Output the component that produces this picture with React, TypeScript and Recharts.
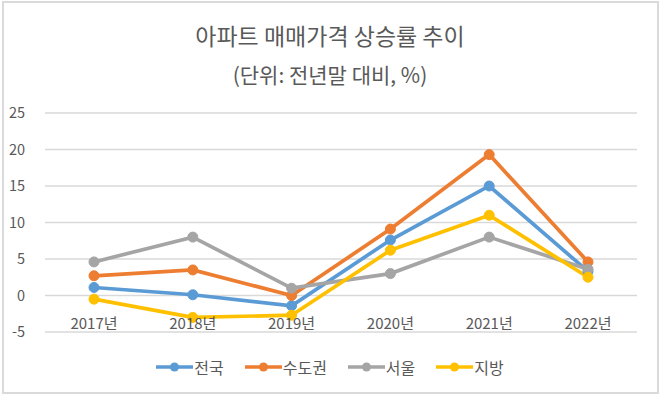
import { LineChart, Line, XAxis, YAxis, CartesianGrid, Legend } from 'recharts'

// ── Data ──────────────────────────────────────────────────────────────────────

const years = ['2017년', '2018년', '2019년', '2020년', '2021년', '2022년']
const nationwide = [1.1, 0.1, -1.4, 7.6, 15.0, 3.3]
const capital = [2.7, 3.5, 0.0, 9.1, 19.3, 4.6]
const seoul = [4.6, 8.0, 1.0, 3.0, 8.0, 3.6]
const regional = [-0.5, -3.0, -2.7, 6.2, 11.0, 2.5]
const yTicks = [-5, 0, 5, 10, 15, 20, 25]

const series = [
  { key: 'nationwide', name: '전국', color: '#5B9BD5' },
  { key: 'capital', name: '수도권', color: '#ED7D31' },
  { key: 'seoul', name: '서울', color: '#A5A5A5' },
  { key: 'regional', name: '지방', color: '#FFC000' },
]

const data = years.map((year, i) => ({
  year,
  nationwide: nationwide[i],
  capital: capital[i],
  seoul: seoul[i],
  regional: regional[i],
}))

const FONT = '"Noto Sans CJK KR", "Noto Sans", sans-serif'
const TEXT = '#595959'

// ── Pieces ────────────────────────────────────────────────────────────────────

function YearTick({ x, y, payload }: any) {
  return (
    <text x={x} y={y - 11} textAnchor="middle" fontSize={15} fill={TEXT} fontFamily={FONT}>
      {payload.value}
    </text>
  )
}

function LegendRow() {
  return (
    <div style={{ display: 'flex', justifyContent: 'center', gap: 21, fontFamily: FONT }}>
      {series.map((s) => (
        <div key={s.key} style={{ display: 'flex', alignItems: 'center' }}>
          <svg width={37} height={12}>
            <line x1={0} y1={6} x2={37} y2={6} stroke={s.color} strokeWidth={3.5} />
            <circle cx={18.5} cy={6} r={4.5} fill={s.color} />
          </svg>
          <span style={{ fontSize: 16, color: TEXT, marginLeft: 1 }}>{s.name}</span>
        </div>
      ))}
    </div>
  )
}

// ── App ───────────────────────────────────────────────────────────────────────

export default function App() {
  return (
    <div
      style={{
        position: 'fixed',
        left: 0,
        top: 0,
        width: 660,
        height: 396,
        background: '#fff',
        overflow: 'hidden',
      }}
    >
      <div
        style={{
          position: 'absolute',
          left: 2,
          top: 1,
          width: 653,
          height: 389,
          border: '2px solid #dadada',
        }}
      />
      <div
        style={{
          position: 'absolute',
          top: 19,
          width: 660,
          textAlign: 'center',
          fontFamily: FONT,
          color: TEXT,
          fontSize: 23,
          lineHeight: '32px',
        }}
      >
        아파트 매매가격 상승률 추이
      </div>
      <div
        style={{
          position: 'absolute',
          top: 59,
          width: 660,
          textAlign: 'center',
          fontFamily: FONT,
          color: TEXT,
          fontSize: 21,
          lineHeight: '30px',
        }}
      >
        (단위: 전년말 대비, %)
      </div>
      <div style={{ position: 'absolute', left: 0, top: 0 }}>
        <LineChart width={660} height={396} data={data} margin={{ top: 113, right: 23, left: 0, bottom: 34 }}>
          <CartesianGrid vertical={false} stroke="#d9d9d9" strokeWidth={1.3} />
          <XAxis
            dataKey="year"
            axisLine={false}
            tickLine={false}
            height={30}
            padding={{ left: 49, right: 49 }}
            tick={<YearTick />}
            interval={0}
          />
          <YAxis
            domain={[-5, 25]}
            ticks={yTicks}
            axisLine={false}
            tickLine={false}
            width={45}
            tickMargin={14}
            tick={{ fontSize: 14.5, fill: TEXT, fontFamily: FONT }}
          />
          <Legend
            verticalAlign="middle"
            align="center"
            layout="horizontal"
            wrapperStyle={{ top: 355, left: 0, width: 660 }}
            content={<LegendRow />}
          />
          {series.map((s) => (
            <Line
              key={s.key}
              dataKey={s.key}
              name={s.name}
              stroke={s.color}
              strokeWidth={3.7}
              dot={{ r: 5, fill: s.color, stroke: s.color, strokeWidth: 1 }}
              activeDot={false}
              isAnimationActive={false}
            />
          ))}
        </LineChart>
      </div>
    </div>
  )
}
